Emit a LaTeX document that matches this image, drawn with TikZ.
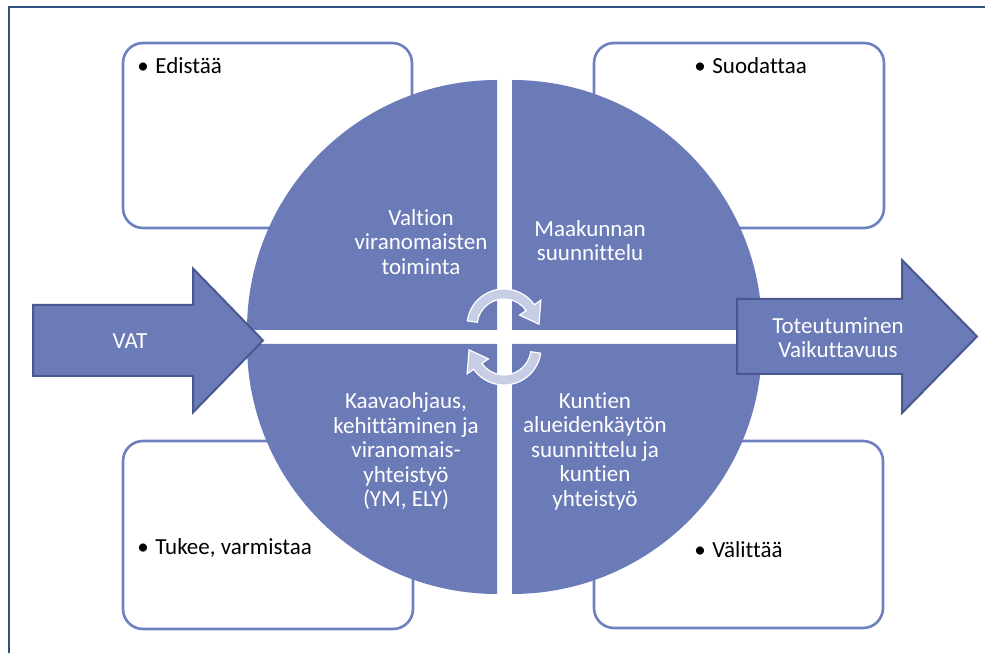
\documentclass[tikz,border=0pt]{standalone}
\usepackage{fontspec}
\setmainfont{Carlito}[Ligatures=NoCommon]
\definecolor{pieblue}{HTML}{6B7BB8}
\definecolor{arrowline}{HTML}{4A5890}
\definecolor{boxline}{HTML}{6E80C2}
\definecolor{turnfill}{HTML}{C8CDE6}
\definecolor{framecol}{HTML}{2F4F7F}
\newcommand{\boxbullet}{\makebox[9pt][l]{\textbullet}}
\begin{document}
\begin{tikzpicture}[x=0.5pt, y=0.5pt,
    every node/.style={font=\fontsize{11.5}{12.25}\selectfont},
    quarter/.style={fill=pieblue},
    infobox/.style={draw=boxline, line width=1.3pt, rounded corners=10pt, fill=white},
    bigarrow/.style={fill=pieblue, draw=arrowline, line width=1pt},
    turn/.style={fill=turnfill, draw=white, line width=0.6pt},
    qtext/.style={text=white, align=center},
    btext/.style={anchor=base west, inner sep=0pt}]
    \useasboundingbox (0,0) rectangle (985,653);
    % frame
    \draw[framecol, line width=0.7pt] (9,0) -- (9,646) -- (985,646);

    % boxes behind the circle
    \draw[infobox] (123,425) rectangle (412,610);
    \draw[infobox] (594,425) rectangle (884,610);
    \draw[infobox] (123,24) rectangle (413,212);
    \draw[infobox] (594,25) rectangle (883,212);

    % the four quarters
    \fill[quarter] (497,323) -- (247,323) arc[start angle=180, end angle=90, radius=250] -- cycle;
    \fill[quarter] (512,323) -- (762,323) arc[start angle=0, end angle=90, radius=250] -- cycle;
    \fill[quarter] (497,309) -- (247,309) arc[start angle=180, end angle=270, radius=250] -- cycle;
    \fill[quarter] (512,309) -- (762,309) arc[start angle=0, end angle=-90, radius=250] -- cycle;

    % turning arrows
    \begin{scope}[shift={(504,327)}]
        \filldraw[turn] (172:37) arc[start angle=172, end angle=35, radius=37] -- (35:45)
            -- (3:35) -- (35:19) -- (35:27) arc[start angle=35, end angle=172, radius=27] -- cycle;
    \end{scope}
    \begin{scope}[shift={(504,305)}]
        \filldraw[turn] (-8:37) arc[start angle=-8, end angle=-145, radius=37] -- (215:45)
            -- (183:35) -- (215:19) -- (215:27) arc[start angle=-145, end angle=-8, radius=27] -- cycle;
    \end{scope}

    % in and out
    \filldraw[bigarrow] (33,277) -- (193,277) -- (193,240.5) -- (263,312.5)
        -- (193,384.5) -- (193,348) -- (33,348) -- cycle;
    \filldraw[bigarrow] (737,279) -- (902,279) -- (902,240) -- (977,316.5)
        -- (902,393) -- (902,354) -- (737,354) -- cycle;

    \node (vat) [qtext] at (130,312) {VAT};
    \node (impact) [qtext] at (838,315.5) {Toteutuminen\\Vaikuttavuus};

    \node (state) [qtext] at (421,411) {Valtion\\viranomaisten\\toiminta};
    \node (region) [qtext] at (590,412.5) {Maakunnan\\suunnittelu};
    \node (guidance) [qtext] at (406,201.5) {Kaavaohjaus,\\kehittäminen ja\\viranomais-\\yhteistyö\\(YM, ELY)};
    \node (municip) [qtext] at (595,202) {Kuntien\\alueidenkäytön\\suunnittelu ja\\kuntien\\yhteistyö};

    \node (promote) [btext] at (137,579) {\boxbullet Edistää};
    \node (filter) [btext] at (694,579) {\boxbullet Suodattaa};
    \node (support) [btext] at (137,98) {\boxbullet Tukee, varmistaa};
    \node (convey) [btext] at (694,95) {\boxbullet Välittää};
\end{tikzpicture}
\end{document}
